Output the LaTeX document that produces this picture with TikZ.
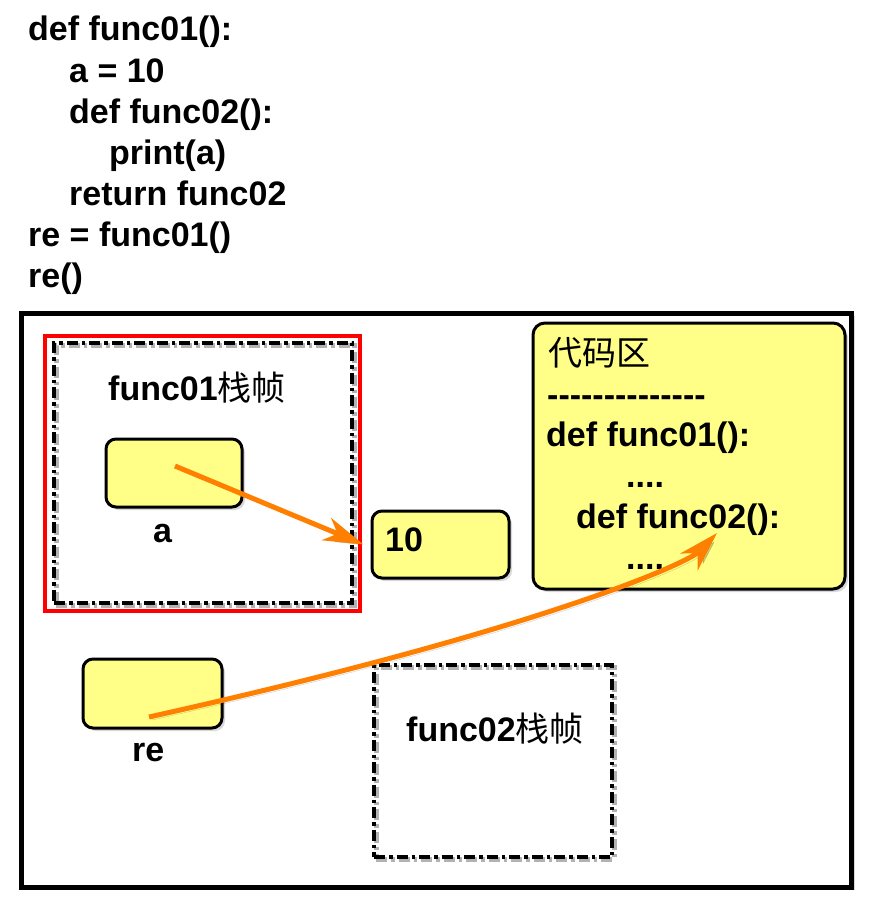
\documentclass[tikz,border=0pt]{standalone}
\usepackage{fontspec}
\setmainfont{Liberation Sans}[Ligatures=TeXOff]
\newfontfamily\cjk{Noto Sans CJK SC}
\usetikzlibrary{arrows.meta,shadows}
\definecolor{boxyellow}{HTML}{FFFF88}
\definecolor{arrorange}{HTML}{FF8000}
\newcommand{\zh}[1]{{\normalfont\cjk #1}}
\begin{document}
\begin{tikzpicture}[x=1pt,y=-1pt,
  txt/.style={anchor=base west, inner sep=0pt, font=\fontsize{34}{41}\selectfont\bfseries},
  ybox/.style={draw=black, line width=3pt, fill=boxyellow, rounded corners=10pt, inner sep=0pt,
    drop shadow={shadow xshift=3pt, shadow yshift=-3pt, opacity=0.3}},
  dframe/.style={draw=black, line width=4.5pt, inner sep=0pt, dash pattern=on 11pt off 4pt on 3.5pt off 4pt,
    preaction={draw=black!30, line width=5pt, dash pattern=on 11pt off 4pt on 3.5pt off 4pt, transform canvas={shift={(2pt,-2pt)}}}},
  arr/.style={draw=arrorange, line width=5pt, -{Stealth[length=40pt,width=24pt,inset=12pt]},
    preaction={draw=black, opacity=0.2, transform canvas={shift={(3pt,-3pt)}}}}
]
\path[use as bounding box] (0,0) rectangle (869,919);

% code listing
\node[txt] (l1) at (28,40) {def func01():};
\node[txt] (l2) at (69,82) {a = 10};
\node[txt] (l3) at (69,123) {def func02():};
\node[txt] (l4) at (109,164) {print(a)};
\node[txt] (l5) at (69,205) {return func02};
\node[txt] (l6) at (28,246) {re = func01()};
\node[txt] (l7) at (28,287) {re()};

% outer frame
\node[draw=black, line width=5pt, fill=white, inner sep=0pt, minimum width=830pt, minimum height=574pt,
  drop shadow={shadow xshift=3pt, shadow yshift=-3pt, opacity=0.3}] (outer) at (436.75,600) {};

% func01 frame
\node[draw=red, line width=4pt, fill=white, inner sep=0pt, minimum width=315pt, minimum height=275pt,
  drop shadow={shadow xshift=2pt, shadow yshift=-2pt, opacity=0.25}] (red) at (202,473.5) {};
\node[dframe, minimum width=298pt, minimum height=260pt] (f1) at (203,473) {};
\node[txt] (f1t) at (108,400) {func01\zh{栈帧}};
\node[ybox, minimum width=136pt, minimum height=68pt] (va) at (174,473) {};
\node[txt] (la) at (153,542) {a};

% value 10
\node[ybox, minimum width=137pt, minimum height=67pt] (v10) at (440.5,544.5) {};
\node[txt] (l10) at (385,551) {10};

% re
\node[ybox, minimum width=139pt, minimum height=69pt] (vre) at (152.5,693.5) {};
\node[txt] (lre) at (132,761) {re};

% func02 frame
\node[dframe, minimum width=238pt, minimum height=192pt] (f2) at (493,761) {};
\node[txt] (f2t) at (406,741) {func02\zh{栈帧}};

% code area
\node[ybox, rounded corners=12pt, minimum width=312pt, minimum height=266pt] (code) at (689,456) {};
\node[txt] (c1) at (548,365) {\zh{代码区}};
\node[txt] (c2) at (547,406) {--------------};
\node[txt] (c3) at (546,446) {def func01():};
\node[txt] (c4) at (626,487) {....};
\node[txt] (c5) at (576,528) {def func02():};
\node[txt] (c6) at (626,569) {....};

% arrows
\coordinate (aS) at (175,466);
\draw[arr] (aS) -- ([xshift=-7pt]v10.west);
\coordinate (reS) at (149,717);
\coordinate (f2tip) at (717,533);
\draw[arr] (reS) .. controls (540,630) and (688,563) .. (f2tip);
\end{tikzpicture}
\end{document}
